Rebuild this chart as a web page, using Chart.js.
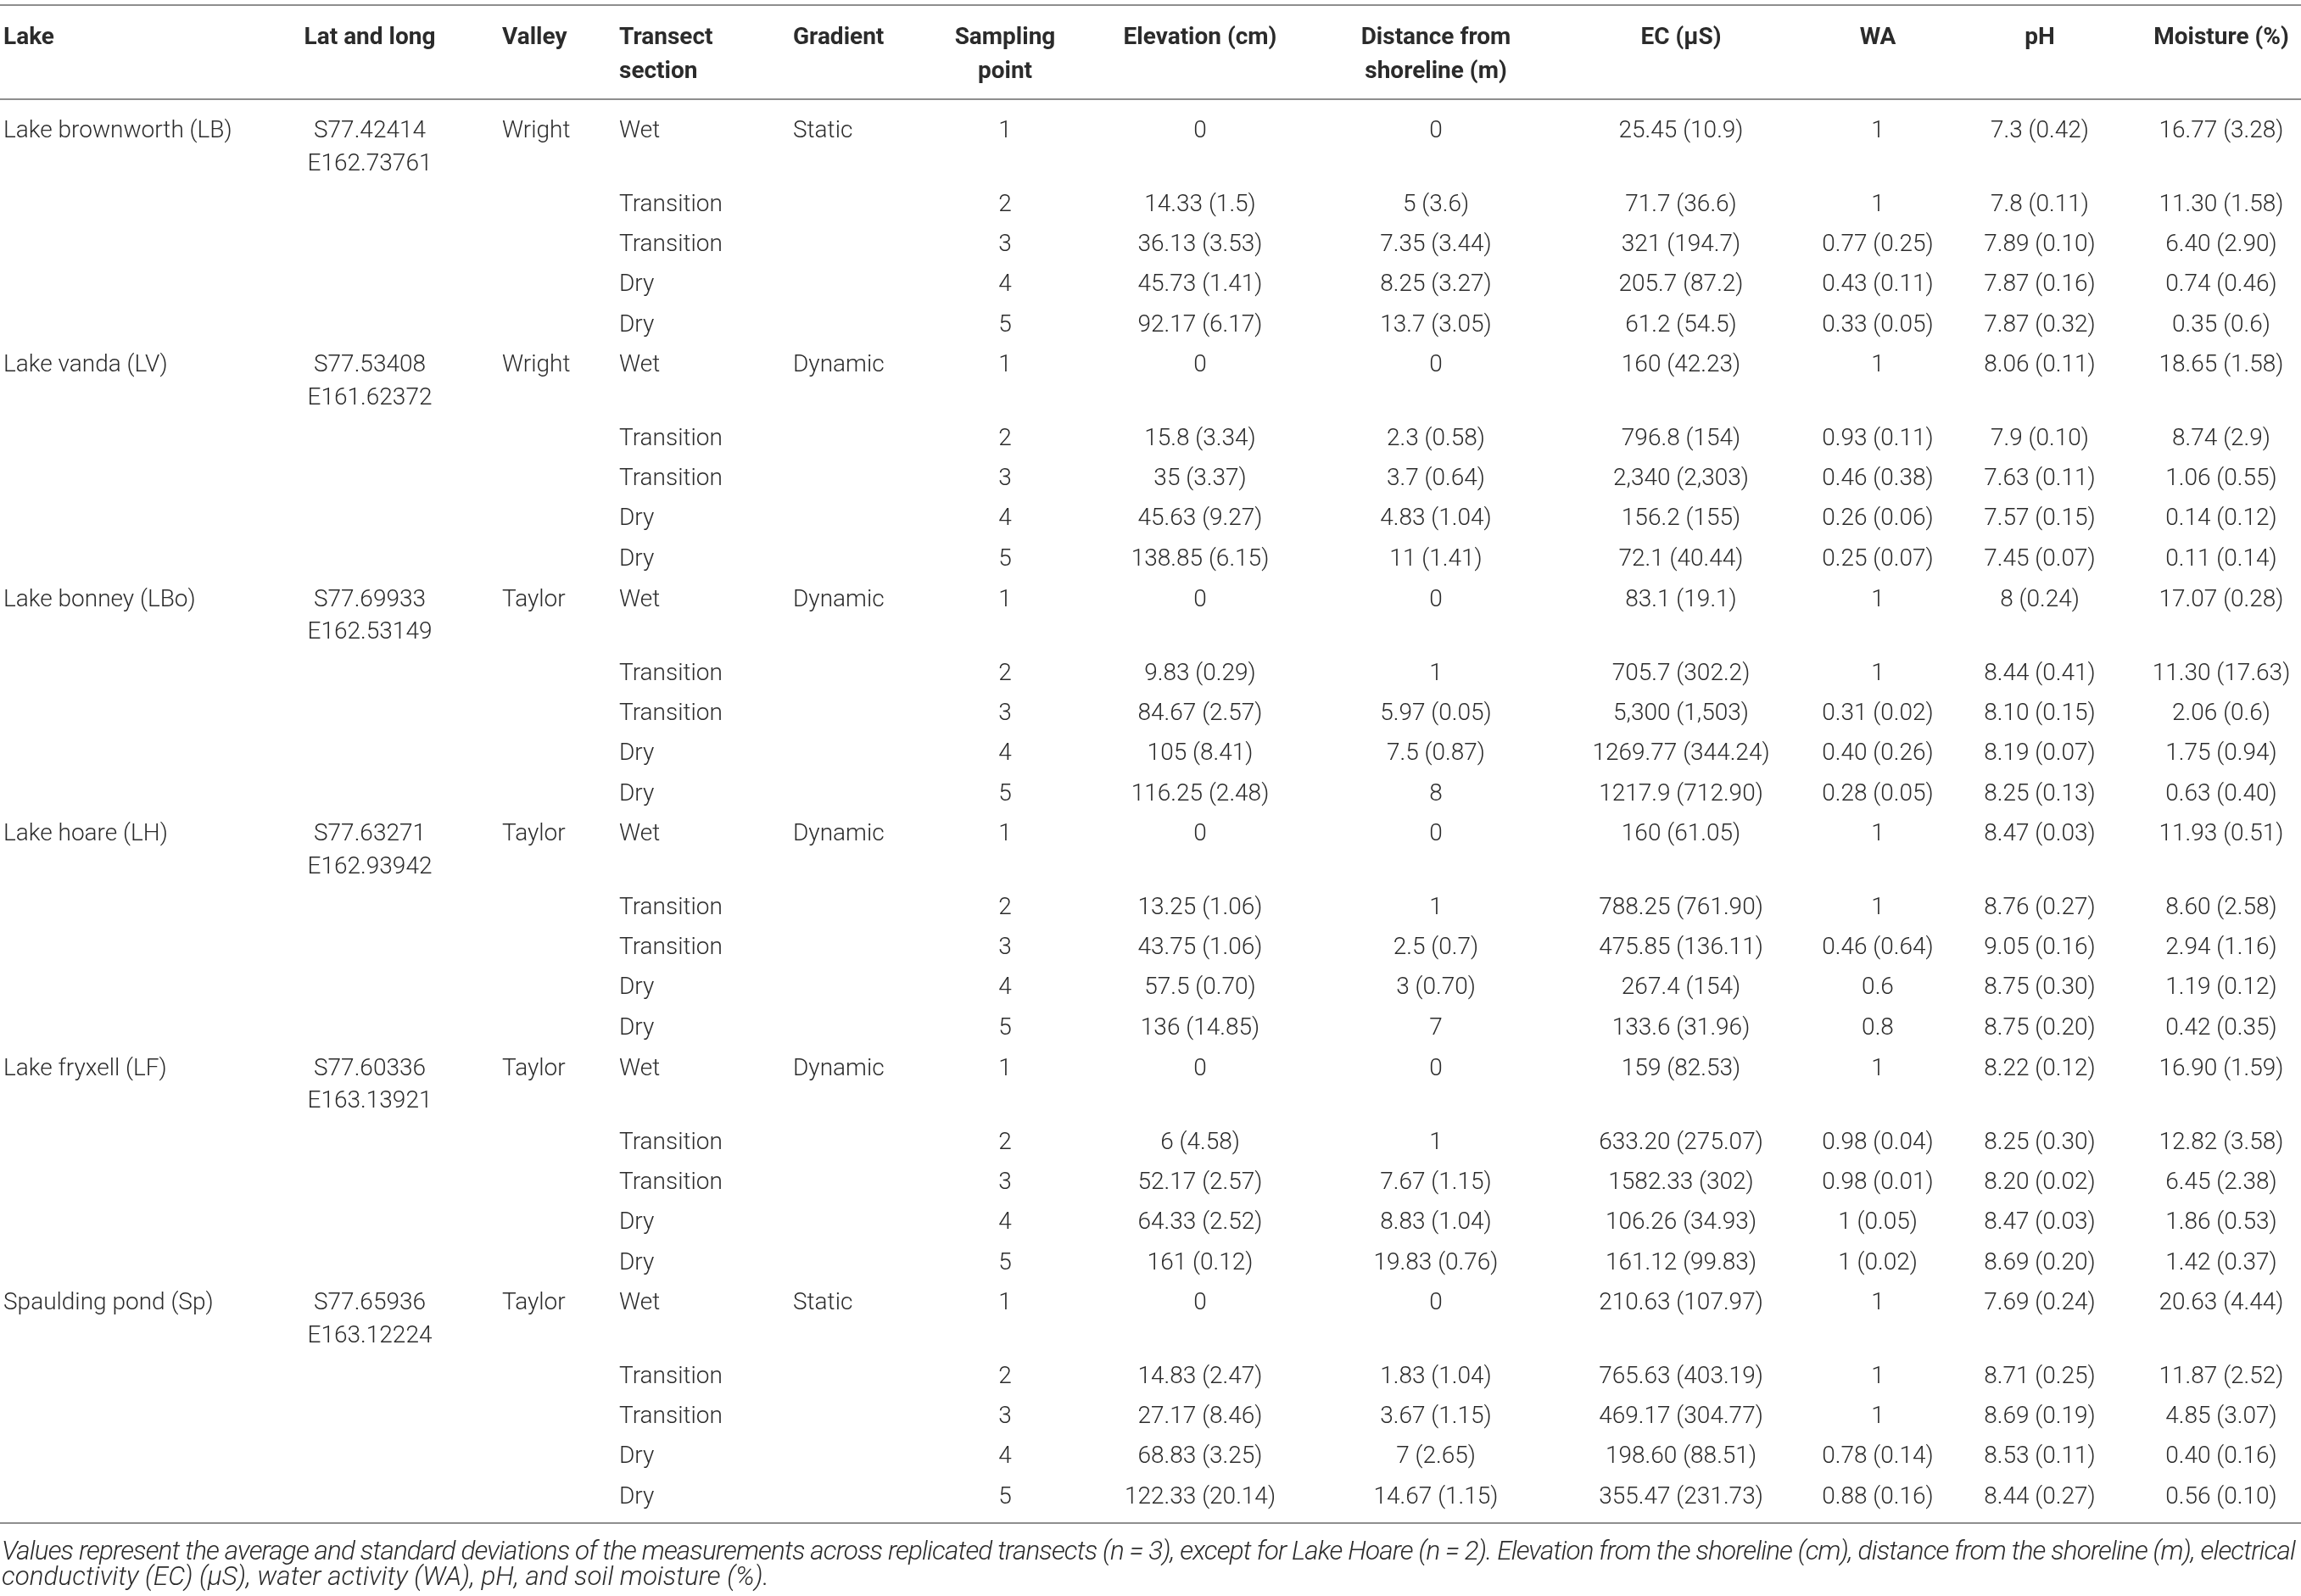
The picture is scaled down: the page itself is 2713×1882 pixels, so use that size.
<!DOCTYPE html>
<html>
<head>
    <title>Lake transect soil properties</title>
    <script src="https://cdn.jsdelivr.net/npm/chart.js"></script>
    <style>
        html, body {
            margin: 0;
            padding: 0;
            background-color: #ffffff;
        }
        #table-chart {
            display: block;
        }
    </style>
</head>
<body>
    <canvas id="table-chart" width="2713" height="1882"></canvas>
<script>
    // table contents
    var headers = [
        ["Lake"], ["Lat and long"], ["Valley"], ["Transect", "section"], ["Gradient"],
        ["Sampling", "point"], ["Elevation (cm)"], ["Distance from", "shoreline (m)"],
        ["EC (\u03bcS)"], ["WA"], ["pH"], ["Moisture (%)"]
    ];
    var lakes = ["Lake brownworth (LB)", "Lake vanda (LV)", "Lake bonney (LBo)", "Lake hoare (LH)", "Lake fryxell (LF)", "Spaulding pond (Sp)"];
    var latitudes = ["S77.42414", "S77.53408", "S77.69933", "S77.63271", "S77.60336", "S77.65936"];
    var longitudes = ["E162.73761", "E161.62372", "E162.53149", "E162.93942", "E163.13921", "E163.12224"];
    var valleys = ["Wright", "Wright", "Taylor", "Taylor", "Taylor", "Taylor"];
    var gradients = ["Static", "Dynamic", "Dynamic", "Dynamic", "Dynamic", "Static"];
    var sections = ["Wet", "Transition", "Transition", "Dry", "Dry"];
    var samplingPoints = ["1", "2", "3", "4", "5"];

    var elevation = [
        "0", "14.33 (1.5)", "36.13 (3.53)", "45.73 (1.41)", "92.17 (6.17)",
        "0", "15.8 (3.34)", "35 (3.37)", "45.63 (9.27)", "138.85 (6.15)",
        "0", "9.83 (0.29)", "84.67 (2.57)", "105 (8.41)", "116.25 (2.48)",
        "0", "13.25 (1.06)", "43.75 (1.06)", "57.5 (0.70)", "136 (14.85)",
        "0", "6 (4.58)", "52.17 (2.57)", "64.33 (2.52)", "161 (0.12)",
        "0", "14.83 (2.47)", "27.17 (8.46)", "68.83 (3.25)", "122.33 (20.14)"
    ];
    var distance = [
        "0", "5 (3.6)", "7.35 (3.44)", "8.25 (3.27)", "13.7 (3.05)",
        "0", "2.3 (0.58)", "3.7 (0.64)", "4.83 (1.04)", "11 (1.41)",
        "0", "1", "5.97 (0.05)", "7.5 (0.87)", "8",
        "0", "1", "2.5 (0.7)", "3 (0.70)", "7",
        "0", "1", "7.67 (1.15)", "8.83 (1.04)", "19.83 (0.76)",
        "0", "1.83 (1.04)", "3.67 (1.15)", "7 (2.65)", "14.67 (1.15)"
    ];
    var ec = [
        "25.45 (10.9)", "71.7 (36.6)", "321 (194.7)", "205.7 (87.2)", "61.2 (54.5)",
        "160 (42.23)", "796.8 (154)", "2,340 (2,303)", "156.2 (155)", "72.1 (40.44)",
        "83.1 (19.1)", "705.7 (302.2)", "5,300 (1,503)", "1269.77 (344.24)", "1217.9 (712.90)",
        "160 (61.05)", "788.25 (761.90)", "475.85 (136.11)", "267.4 (154)", "133.6 (31.96)",
        "159 (82.53)", "633.20 (275.07)", "1582.33 (302)", "106.26 (34.93)", "161.12 (99.83)",
        "210.63 (107.97)", "765.63 (403.19)", "469.17 (304.77)", "198.60 (88.51)", "355.47 (231.73)"
    ];
    var wa = [
        "1", "1", "0.77 (0.25)", "0.43 (0.11)", "0.33 (0.05)",
        "1", "0.93 (0.11)", "0.46 (0.38)", "0.26 (0.06)", "0.25 (0.07)",
        "1", "1", "0.31 (0.02)", "0.40 (0.26)", "0.28 (0.05)",
        "1", "1", "0.46 (0.64)", "0.6", "0.8",
        "1", "0.98 (0.04)", "0.98 (0.01)", "1 (0.05)", "1 (0.02)",
        "1", "1", "1", "0.78 (0.14)", "0.88 (0.16)"
    ];
    var ph = [
        "7.3 (0.42)", "7.8 (0.11)", "7.89 (0.10)", "7.87 (0.16)", "7.87 (0.32)",
        "8.06 (0.11)", "7.9 (0.10)", "7.63 (0.11)", "7.57 (0.15)", "7.45 (0.07)",
        "8 (0.24)", "8.44 (0.41)", "8.10 (0.15)", "8.19 (0.07)", "8.25 (0.13)",
        "8.47 (0.03)", "8.76 (0.27)", "9.05 (0.16)", "8.75 (0.30)", "8.75 (0.20)",
        "8.22 (0.12)", "8.25 (0.30)", "8.20 (0.02)", "8.47 (0.03)", "8.69 (0.20)",
        "7.69 (0.24)", "8.71 (0.25)", "8.69 (0.19)", "8.53 (0.11)", "8.44 (0.27)"
    ];
    var moisture = [
        "16.77 (3.28)", "11.30 (1.58)", "6.40 (2.90)", "0.74 (0.46)", "0.35 (0.6)",
        "18.65 (1.58)", "8.74 (2.9)", "1.06 (0.55)", "0.14 (0.12)", "0.11 (0.14)",
        "17.07 (0.28)", "11.30 (17.63)", "2.06 (0.6)", "1.75 (0.94)", "0.63 (0.40)",
        "11.93 (0.51)", "8.60 (2.58)", "2.94 (1.16)", "1.19 (0.12)", "0.42 (0.35)",
        "16.90 (1.59)", "12.82 (3.58)", "6.45 (2.38)", "1.86 (0.53)", "1.42 (0.37)",
        "20.63 (4.44)", "11.87 (2.52)", "4.85 (3.07)", "0.40 (0.16)", "0.56 (0.10)"
    ];
    var footnote = [
        "Values represent the average and standard deviations of the measurements across replicated transects (n = 3), except for Lake Hoare (n = 2). Elevation from the shoreline (cm), distance from the shoreline (m), electrical",
        "conductivity (EC) (\u03bcS), water activity (WA), pH, and soil moisture (%)."
    ];

    // layout (page units = pixels of the 2713 x 1882 page)
    var W = 2713, H = 1882;
    var colX = [4, 436, 592, 730, 935, 1185, 1415, 1693, 1982, 2214, 2405, 2619];
    var colAlign = ["left", "center", "left", "left", "left", "center", "center", "center", "center", "center", "center", "center"];
    var headerY = [52, 92];
    var firstRowY = 162;
    var groupPitch = 276.4;
    var rowOffsets = [0, 87, 134, 181, 229];
    var secondLine = 38.5;
    var ruleY = [6, 117, 1796];
    var footY = [1839, 1869];
    var footWidths = [2704, 905];   // justified first line, natural second line
    var textColor = "#2b2b2b";

    function rowY(lake, point) {
        return firstRowY + lake * groupPitch + rowOffsets[point];
    }

    function cells(col, fn) {
        var out = [];
        for (var g = 0; g < lakes.length; g++) {
            for (var p = 0; p < sections.length; p++) {
                var t = fn(g, p);
                if (t !== null) out.push({ x: colX[col], y: rowY(g, p), text: t });
            }
        }
        return out;
    }

    var bodyFont = "300 28px Roboto, 'Liberation Sans', sans-serif";
    var headFont = "700 28px Roboto, 'Liberation Sans', sans-serif";

    var datasets = [];
    // header cells
    headers.forEach(function (lines, c) {
        datasets.push({
            data: lines.map(function (t, i) { return { x: colX[c], y: headerY[i], text: t }; }),
            align: colAlign[c], font: headFont
        });
    });
    // first-row-only columns
    datasets.push({ data: cells(0, function (g, p) { return p === 0 ? lakes[g] : null; }), align: colAlign[0], font: bodyFont });
    datasets.push({ data: cells(1, function (g, p) { return p === 0 ? latitudes[g] : null; }), align: colAlign[1], font: bodyFont });
    datasets.push({
        data: lakes.map(function (l, g) { return { x: colX[1], y: rowY(g, 0) + secondLine, text: longitudes[g] }; }),
        align: colAlign[1], font: bodyFont
    });
    datasets.push({ data: cells(2, function (g, p) { return p === 0 ? valleys[g] : null; }), align: colAlign[2], font: bodyFont });
    datasets.push({ data: cells(3, function (g, p) { return sections[p]; }), align: colAlign[3], font: bodyFont });
    datasets.push({ data: cells(4, function (g, p) { return p === 0 ? gradients[g] : null; }), align: colAlign[4], font: bodyFont });
    datasets.push({ data: cells(5, function (g, p) { return samplingPoints[p]; }), align: colAlign[5], font: bodyFont });
    [elevation, distance, ec, wa, ph, moisture].forEach(function (arr, k) {
        datasets.push({ data: cells(6 + k, function (g, p) { return arr[g * 5 + p]; }), align: colAlign[6 + k], font: bodyFont });
    });
    datasets.forEach(function (ds) { ds.pointRadius = 0; ds.pointHoverRadius = 0; });

    var rulesPlugin = {
        id: 'rules',
        beforeDatasetsDraw: function (chart) {
            var ctx = chart.ctx, xs = chart.scales.x, ys = chart.scales.y;
            ctx.save();
            ctx.strokeStyle = "#8e8e8e";
            ctx.lineWidth = 2;
            ruleY.forEach(function (v) {
                var py = Math.round(ys.getPixelForValue(v));
                ctx.beginPath();
                ctx.moveTo(xs.getPixelForValue(0), py);
                ctx.lineTo(xs.getPixelForValue(W), py);
                ctx.stroke();
            });
            ctx.restore();
        }
    };

    var cellTextPlugin = {
        id: 'cellText',
        afterDatasetsDraw: function (chart) {
            var ctx = chart.ctx;
            ctx.save();
            ctx.fillStyle = textColor;
            ctx.textBaseline = "alphabetic";
            chart.data.datasets.forEach(function (ds, i) {
                var meta = chart.getDatasetMeta(i);
                ctx.font = ds.font;
                ctx.textAlign = ds.align;
                meta.data.forEach(function (el, j) {
                    ctx.fillText(ds.data[j].text, el.x, el.y);
                });
            });
            // footnote: size from the short line, first line squeezed to the page width
            var ys = chart.scales.y, xs = chart.scales.x;
            var fam = "px Roboto, 'Liberation Sans', sans-serif";
            ctx.font = "italic 300 24" + fam;
            var size = 24 * footWidths[1] / ctx.measureText(footnote[1]).width;
            ctx.font = "italic 300 " + size.toFixed(2) + fam;
            ctx.textAlign = "left";
            footnote.forEach(function (t, i) {
                ctx.letterSpacing = "0px";
                if (i === 0) {
                    var w = ctx.measureText(t).width;
                    ctx.letterSpacing = ((footWidths[0] - w) / t.length).toFixed(3) + "px";
                }
                ctx.fillText(t, xs.getPixelForValue(2), ys.getPixelForValue(footY[i]));
            });
            ctx.restore();
        }
    };

    var ctx = document.getElementById('table-chart').getContext('2d');
    var tableChart = new Chart(ctx, {
        type: 'scatter',
        data: { datasets: datasets },
        options: {
            responsive: false,
            animation: false,
            devicePixelRatio: 1,
            layout: { padding: 0 },
            events: [],
            plugins: { legend: { display: false }, tooltip: { enabled: false } },
            scales: {
                x: { type: 'linear', min: 0, max: W, display: false },
                y: { type: 'linear', min: 0, max: H, reverse: true, display: false }
            }
        },
        plugins: [rulesPlugin, cellTextPlugin]
    });
</script>
</body>
</html>
